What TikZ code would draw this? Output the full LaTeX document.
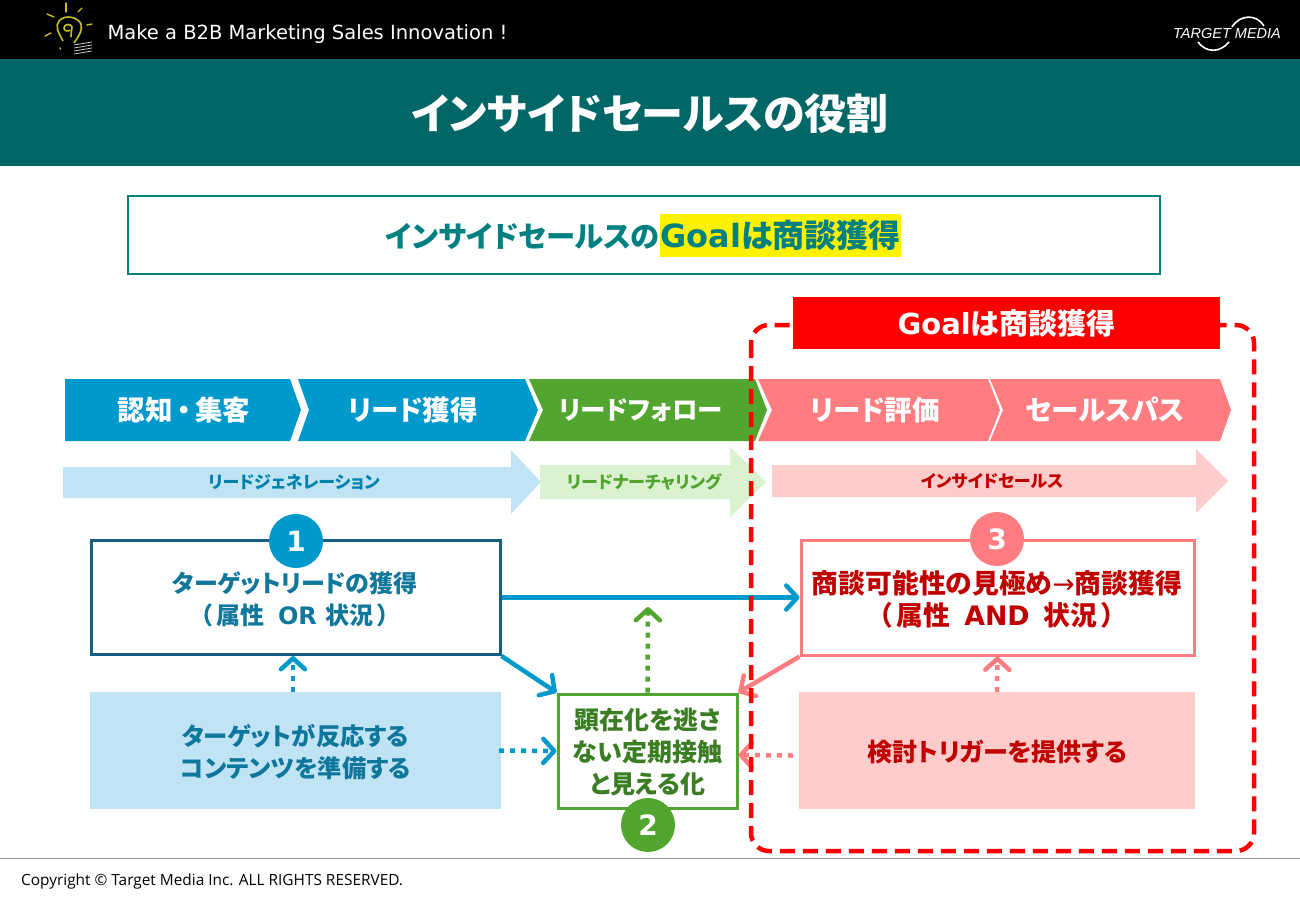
\documentclass[tikz,border=0pt]{standalone}
\usepackage{fontspec}
\setmainfont[RawFeature=+palt]{Noto Sans CJK JP}
\newfontfamily\vb{DejaVu Sans}
\newfontfamily\copyfont{Open Sans}
\newfontfamily\logofont{Liberation Sans}
\usetikzlibrary{arrows.meta}
\usetikzlibrary{positioning}
\definecolor{headteal}{HTML}{006666}
\definecolor{goalteal}{HTML}{008080}
\definecolor{tblue}{HTML}{0099CC}
\definecolor{tgreen}{HTML}{52A52E}
\definecolor{tpink}{HTML}{FF7C80}
\definecolor{dblue}{HTML}{156082}
\definecolor{mblue}{HTML}{0F769C}
\definecolor{dgreen}{HTML}{3B7D23}
\definecolor{dred}{HTML}{C00000}
\definecolor{lblue}{HTML}{C1E4F5}
\definecolor{lgreen}{HTML}{DAF2D0}
\definecolor{lpink}{HTML}{FFCCCC}
\definecolor{bulb}{HTML}{C8C020}
\tikzset{
  stagetext/.style={text=white,font=\bfseries\fontsize{27.5}{30}\selectfont},
  flowtext/.style={font=\bfseries\fontsize{17}{20}\selectfont},
  boxtext/.style={align=center,font=\bfseries\fontsize{25}{32}\selectfont},
  stepbox/.style={draw=#1,line width=3pt,fill=white,inner sep=0pt},
  softbox/.style={fill=#1,inner sep=0pt},
  badge/.style={circle,fill=#1,text=white,minimum size=54pt,inner sep=0pt,
    font=\vb\bfseries\fontsize{28}{30}\selectfont},
  solidarrow/.style={draw=#1,line width=4.5pt,-{Straight Barb[length=11pt,width=24pt,line width=4.5pt,round]}},
  dotarrow/.style={draw=#1,line width=4.5pt,dash pattern=on 5pt off 6pt,
    -{Straight Barb[length=11pt,width=24pt,line width=4.5pt,round]}},
}
\begin{document}
\begin{tikzpicture}[x=1pt,y=-1pt]
  \useasboundingbox (0,0) rectangle (1300,900);
  % header
  \fill[black] (0,0) rectangle (1300,59);
  \fill[headteal] (0,59) rectangle (1300,166);
  \node[text=white,anchor=west,font=\vb\fontsize{19.5}{22}\selectfont] (slogan) at (104,34) {Make a B2B Marketing Sales Innovation !};
  \node[text=white,font=\bfseries\fontsize{42}{46}\selectfont] (title) at (650,114) {インサイドセールスの役割};
  % bulb
  \draw[bulb,line width=1.6pt] (63,41) .. controls (58,32) and (55,26) .. (59,21) .. controls (65,14) and (78,17) .. (81,24) .. controls (83,31) and (78,37) .. (74,43);
  \draw[bulb,line width=1.6pt] (71,37) .. controls (71,32) and (72,30) .. (72,27) .. controls (71,23) and (64,24) .. (64,28) .. controls (64,31) and (68,32) .. (70,30);
  \foreach \xa/\ya/\xb/\yb in {66/3/66/12, 82/8/78/12, 47/14/54/17, 92/24/87/25, 45/36/51/33, 60/48/60.5/49}
    \draw[bulb,line width=1.4pt,line cap=round] (\xa,\ya) -- (\xb,\yb);
  \foreach \ya in {43,46,49,52}
    \draw[white!80!black,line width=.8pt] (74,\ya+2) -- (92,\ya-1);
  % logo
  \node[text=white,anchor=center,inner sep=0pt,font=\logofont\itshape\fontsize{14.5}{18}\selectfont] (logotext) at (1227,34) {TARGET\ MEDIA};
  \draw[white,line width=1.6pt] (1232,27) .. controls (1240,14) and (1257,14) .. (1264,26);
  \draw[white,line width=1.6pt] (1198,42) .. controls (1206,53) and (1220,53) .. (1229,42);
  % goal line
  \draw[goalteal,line width=2.5pt] (128,196) rectangle (1160,274);
  \node[anchor=east,inner sep=0pt,text=goalteal,font=\bfseries\fontsize{29.3}{36}\selectfont] (goalhead) at (660,236) {インサイドセールスの};
  \node[anchor=west,fill=yellow,inner xsep=0pt,minimum height=43pt,text=goalteal,font=\bfseries\fontsize{32}{36}\selectfont] (goalmark) at (660,235) {{\vb Goal}は商談獲得};
  % stage chevrons
  \fill[tblue] (65,379) -- (290,379) -- (301,410) -- (290,441) -- (65,441) -- cycle;
  \fill[tblue] (298,379) -- (525,379) -- (538,410) -- (525,441) -- (298,441) -- (309,410) -- cycle;
  \fill[tgreen] (529,379) -- (755,379) -- (767,410) -- (755,441) -- (529,441) -- (543,410) -- cycle;
  \fill[tpink] (758,379) -- (988,379) -- (1000,410) -- (988,441) -- (758,441) -- (772,410) -- cycle;
  \fill[tpink] (990,379) -- (1220,379) -- (1231,410) -- (1220,441) -- (990,441) -- (1003,410) -- cycle;
  \node[stagetext] (aware) at (184,410) {認知\,・\,集客};
  \node[stagetext] (leadget) at (413,410) {リード獲得};
  \node[stagetext,font=\bfseries\fontsize{25.5}{30}\selectfont] (leadfollow) at (641,410) {リードフォロー};
  \node[stagetext] (leadeval) at (875,410) {リード評価};
  \node[stagetext] (salespass) at (1105,410) {セールスパス};
  % flow arrows
  \fill[lblue] (63,467) -- (511,467) -- (511,450) -- (541,482) -- (511,514) -- (511,498) -- (63,498) -- cycle;
  \fill[lgreen] (540,465) -- (730,465) -- (730,447) -- (766,482) -- (730,517) -- (730,499) -- (540,499) -- cycle;
  \fill[lpink] (772,465) -- (1196,465) -- (1196,449) -- (1228,481) -- (1196,513) -- (1196,497) -- (772,497) -- cycle;
  \node[flowtext,text=tblue!85!black] (leadgen) at (294,482) {リードジェネレーション};
  \node[flowtext,text=tgreen] (nurture) at (644,482) {リードナーチャリング};
  \node[flowtext,text=dred] (inside) at (992,481) {インサイドセールス};
  % boxes
  \node[stepbox=dblue,minimum width=409pt,minimum height=114pt] (target) at (295.5,597.5) {};
  \node[boxtext,text=mblue,font=\bfseries\fontsize{24}{32}\selectfont] (targettext) at (295,599) {ターゲットリードの獲得\\（\,属性\hspace{14pt}{\vb OR}\hspace{9pt}状況\,）};
  \node[stepbox=tpink,minimum width=393pt,minimum height=115pt] (judge) at (997.5,597.5) {};
  \node[boxtext,text=dred,font=\bfseries\fontsize{26.8}{32}\selectfont] (judgetext) at (997,599) {商談可能性の見極め{\vb\mdseries→}商談獲得\\（\,属性\hspace{14pt}{\vb AND}\hspace{14pt}状況\,）};
  \node[stepbox=tgreen,minimum width=179pt,minimum height=114pt] (follow) at (647.5,751) {};
  \node[boxtext,text=dgreen] (followtext) at (647.5,752) {顕在化を逃さ\\ない定期接触\\と見える化};
  \node[softbox=lblue,minimum width=411pt,minimum height=117pt] (content) at (295.5,750.5) {};
  \node[boxtext,text=mblue,font=\bfseries\fontsize{24.3}{32}\selectfont] (contenttext) at (295.5,752.5) {ターゲットが反応する\\コンテンツを準備する};
  \node[softbox=lpink,minimum width=396pt,minimum height=117pt] (trigger) at (997,750.5) {};
  \node[boxtext,text=dred] (triggertext) at (997.5,752.5) {検討トリガーを提供する};
  \coordinate (nextup) at (648,607);
  % connectors
  \draw[solidarrow=tblue] (target.east) -- (judge.west);
  \draw[solidarrow=tblue] (target.south east) -- (follow.north west);
  \draw[solidarrow=tpink] (judge.south west) -- (follow.north east);
  \draw[dotarrow=tgreen] (follow.north) -- (nextup);
  \draw[dotarrow=tblue] (content.north -| 293,0) -- (target.south -| 293,0);
  \draw[dotarrow=tpink] (trigger.north) -- (judge.south);
  \draw[dotarrow=tblue] (content.east) ++(-2,0) -- (follow.west);
  \draw[dotarrow=tpink] (trigger.west) ++(-6,5) -- (follow.east |- 0,755);
  % goal frame
  \draw[red,line width=4.5pt,rounded corners=18pt,dash pattern=on 15pt off 8pt] (751,325) rectangle (1254,851);
  \node[fill=red,text=white,minimum width=427pt,minimum height=52pt,inner sep=0pt,font=\bfseries\fontsize{29}{30}\selectfont] (goalbanner) at (1006.5,323) {{\vb Goal}は商談獲得};
  % badges
  \node[badge=tblue] (one) at (296,541) {1};
  \node[badge=tgreen] (two) at (648,825) {2};
  \node[badge=tpink] (three) at (997,539) {3};
  % footer
  \draw[black!40,line width=1pt] (0,858) -- (1300,858);
  \node[anchor=west,inner sep=0pt,font=\copyfont\fontsize{15.4}{16}\selectfont] (copyright) at (21,881) {Copyright © Target Media Inc. ALL RIGHTS RESERVED.};
\end{tikzpicture}
\end{document}
